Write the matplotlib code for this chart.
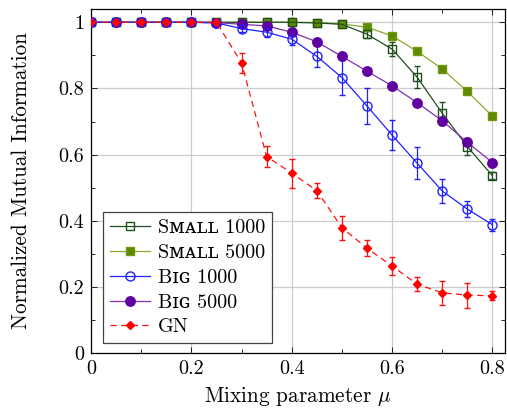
import matplotlib
matplotlib.use("Agg")
import matplotlib.pyplot as plt
from matplotlib.ticker import MultipleLocator

plt.rcParams['font.family'] = ['cmr10', 'DejaVu Serif']
plt.rcParams['mathtext.fontset'] = 'cm'
plt.rcParams['axes.formatter.use_mathtext'] = True

mu = [0.0, 0.05, 0.1, 0.15, 0.2, 0.25, 0.3, 0.35, 0.4, 0.45, 0.5, 0.55, 0.6, 0.65, 0.7, 0.75, 0.8]

small1000 = [1.0, 1.0, 1.0, 1.0, 1.0, 1.0, 1.0, 1.0, 1.0, 0.998, 0.994, 0.964, 0.919, 0.834, 0.725, 0.624, 0.536]
small1000_err = [0, 0, 0, 0, 0, 0, 0, 0, 0, 0.003, 0.005, 0.01, 0.02, 0.033, 0.035, 0.025, 0.01]

small5000 = [1.0, 1.0, 1.0, 1.0, 1.0, 1.0, 1.0, 1.0, 1.0, 0.999, 0.995, 0.985, 0.959, 0.912, 0.859, 0.791, 0.716]

big1000 = [1.0, 1.0, 1.0, 1.0, 1.0, 0.998, 0.981, 0.970, 0.949, 0.897, 0.833, 0.747, 0.659, 0.574, 0.490, 0.435, 0.388]
big1000_err = [0, 0, 0, 0, 0, 0.003, 0.01, 0.013, 0.019, 0.033, 0.054, 0.055, 0.045, 0.049, 0.037, 0.025, 0.018]

big5000 = [1.0, 1.0, 1.0, 1.0, 1.0, 0.999, 0.994, 0.989, 0.970, 0.941, 0.897, 0.852, 0.808, 0.757, 0.702, 0.637, 0.576]

gn = [1.0, 1.0, 1.0, 1.0, 1.0, 1.0, 0.877, 0.594, 0.544, 0.491, 0.379, 0.317, 0.263, 0.208, 0.182, 0.175, 0.173]
gn_err = [0, 0, 0, 0, 0, 0, 0.03, 0.032, 0.044, 0.022, 0.036, 0.024, 0.026, 0.021, 0.036, 0.038, 0.013]

labels = ['S\u1d0d\u1d00\u029f\u029f 1000', 'S\u1d0d\u1d00\u029f\u029f 5000',
          'B\u026a\u0262 1000', 'B\u026a\u0262 5000', 'GN']

FS = 14.5
LFS = 15.3

fig = plt.figure(figsize=(5.07, 4.12), dpi=100)
ax = fig.add_axes([0.1795, 0.1432, 0.8165, 0.8348])

ax.grid(True, which='major', color='#cccccc', linewidth=0.9, zorder=0)
ax.set_axisbelow(True)

c1 = ax.errorbar(mu, small1000, yerr=small1000_err, color='#1f4f1f', marker='s', ms=6,
                 mfc='none', mec='#1f4f1f', mew=1.0, lw=0.9, capsize=2.5, elinewidth=0.9,
                 zorder=3)
l2, = ax.plot(mu, small5000, color='#8aa82a', marker='s', ms=6.3, mfc='#5f8a00', mec='#6f9a10',
              lw=0.9, zorder=3)
c3 = ax.errorbar(mu, big1000, yerr=big1000_err, color='#2020ff', marker='o', ms=6.5,
                 mfc='none', mec='#2020ff', mew=1.0, lw=0.9, capsize=2.5, elinewidth=0.9,
                 zorder=4)
l4, = ax.plot(mu, big5000, color='#8030b0', marker='o', ms=6.8, mfc='#6000a0', mec='#6000a0',
              lw=0.9, zorder=4)
c5 = ax.errorbar(mu, gn, yerr=gn_err, color='#ff1010', marker='D', ms=4.5, mfc='#ff0000',
                 mec='#ff0000', lw=0.9, ls=(0, (5, 3.5)), capsize=2.5, elinewidth=0.9,
                 zorder=5)

ax.set_xlim(0, 0.825)
ax.set_ylim(0, 1.04)
ax.xaxis.set_minor_locator(MultipleLocator(0.1))
ax.yaxis.set_minor_locator(MultipleLocator(0.1))
ax.set_xticks([0, 0.2, 0.4, 0.6, 0.8])
ax.set_xticklabels(['0', '0.2', '0.4', '0.6', '0.8'])
ax.set_yticks([0, 0.2, 0.4, 0.6, 0.8, 1.0])
ax.set_yticklabels(['0', '0.2', '0.4', '0.6', '0.8', '1'])
ax.tick_params(which='both', direction='in', top=True, right=True, labelsize=FS)
ax.tick_params(which='major', length=4, width=0.6, pad=5)
ax.tick_params(which='minor', length=3, width=0.6)
for s in ax.spines.values():
    s.set_linewidth(0.9)

ax.set_xlabel(r'Mixing parameter $\mu$', fontsize=LFS, labelpad=5)
ax.set_ylabel('Normalized Mutual Information', fontsize=LFS, labelpad=20)

handles = [c1[0], l2, c3[0], l4, c5[0]]
leg = ax.legend(handles, labels, loc='lower left', bbox_to_anchor=(0.028, 0.028), fontsize=FS,
                frameon=True, fancybox=False, edgecolor='#444444', framealpha=1,
                borderpad=0.35, labelspacing=0.33, handlelength=2.0, handletextpad=0.4,
                borderaxespad=0.0)
leg.get_frame().set_linewidth(0.9)

fig.savefig('out.png', dpi=100)
